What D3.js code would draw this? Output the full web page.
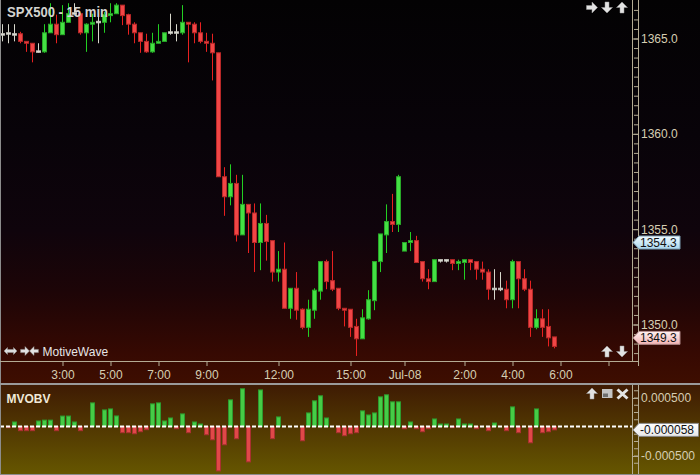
<!DOCTYPE html>
<html><head><meta charset="utf-8">
<script src="https://cdn.jsdelivr.net/npm/d3@7"></script>
<style>html,body{margin:0;padding:0;background:#000;overflow:hidden}svg{display:block}</style>
</head><body>
<svg id="c" width="700" height="475"></svg>
<script>
// ---------- DATA ----------
const openP = [1365.2,1365.25,1365.2,1365.25,1364.85,1364.75,1364.3,1364.3,1365.3,1365.75,
1365.2,1365.85,1366.3,1366.3,1365.3,1365.75,1365.85,1365.85,1366.2,1366.3,
1366.75,1366.25,1365.75,1365.3,1364.85,1364.3,1364.75,1364.85,1365.3,1365.3,
1365.3,1365.85,1365.75,1365.3,1364.85,1364.75,1364.25,1357.75,1356.7,1357.4,
1354.7,1356.3,1355.85,1354.3,1355.3,1354.4,1352.75,1352.9,1350.85,1351.9,
1350.8,1349.85,1350.75,1351.75,1353.3,1352.3,1351.9,1350.85,1350.8,1349.9,
1349.25,1350.3,1351.25,1353.3,1354.7,1355.4,1355.25,1353.85,1354.3,1354.4,
1353.3,1352.4,1352.25,1353.35,1353.35,1353.4,1353.2,1353.25,1353.4,1353.3,
1352.9,1352.75,1351.85,1351.85,1351.85,1351.3,1353.3,1352.4,1351.85,1349.85,
1350.3,1349.9,1349.35];
const highP = [1365.75,1365.75,1365.75,1365.35,1364.85,1364.75,1364.75,1365.75,1366.85,1366.25,
1366.75,1366.85,1366.85,1366.3,1365.8,1366.3,1366.3,1366.4,1366.85,1366.85,
1366.75,1366.3,1365.85,1365.3,1365.25,1365.3,1365.75,1365.3,1366.3,1365.75,
1366.75,1365.85,1365.85,1365.85,1365.3,1365.25,1364.25,1358.25,1358.4,1357.85,
1357.85,1356.3,1356.35,1356.35,1355.75,1354.4,1353.85,1354.3,1351.9,1352.75,
1350.85,1351.3,1351.9,1353.3,1353.4,1353.85,1351.9,1350.85,1350.8,1350.3,
1350.8,1351.8,1353.3,1354.75,1356.3,1356.85,1357.85,1354.3,1354.85,1354.65,
1353.3,1352.9,1353.4,1353.4,1353.4,1353.4,1353.4,1353.4,1353.4,1353.3,
1353.3,1352.9,1352.9,1352.75,1352.3,1353.4,1353.3,1352.9,1352.3,1350.8,
1350.8,1350.8,1349.35];
const lowP = [1364.85,1364.75,1364.85,1364.75,1364.3,1363.75,1364.25,1364.25,1365.3,1364.75,
1365.2,1365.85,1366.3,1365.2,1364.3,1364.85,1364.75,1365.3,1365.85,1366.3,
1365.7,1365.2,1364.75,1364.25,1364.25,1364.25,1364.75,1364.85,1365.2,1364.85,
1365.2,1363.75,1364.75,1364.75,1364.3,1362.8,1357.75,1355.7,1356.25,1354.35,
1354.7,1353.75,1352.75,1352.85,1353.35,1352.25,1352.25,1350.85,1350.3,1350.25,
1349.75,1349.35,1350.3,1351.3,1351.85,1351.75,1350.75,1349.9,1349.35,1348.35,
1349.25,1350.25,1350.75,1352.75,1353.75,1354.85,1354.85,1353.85,1353.85,1353.25,
1352.25,1351.85,1352.25,1353.25,1353.25,1352.85,1352.85,1352.35,1352.85,1352.35,
1352.35,1351.3,1351.3,1351.75,1350.85,1350.85,1350.85,1351.75,1349.35,1349.75,
1349.35,1348.85,1348.75];
const closeP = [1365.2,1365.25,1365.2,1364.85,1364.75,1364.3,1364.3,1365.3,1365.75,1365.2,
1365.85,1366.3,1366.3,1365.3,1365.75,1365.85,1365.85,1366.25,1366.3,1366.75,
1366.2,1365.75,1365.3,1364.85,1364.3,1364.75,1364.85,1365.3,1365.3,1365.3,
1365.85,1365.75,1365.3,1364.85,1364.75,1364.25,1357.75,1356.7,1357.4,1354.7,
1356.3,1355.85,1354.3,1355.3,1354.35,1352.75,1352.9,1350.85,1351.9,1350.75,
1349.85,1350.8,1351.8,1353.3,1352.25,1351.85,1350.85,1350.75,1349.85,1349.25,
1350.35,1351.3,1353.3,1354.75,1355.4,1355.25,1357.75,1354.3,1354.4,1353.25,
1352.4,1352.25,1353.4,1353.35,1353.35,1353.2,1353.3,1353.4,1353.25,1352.9,
1352.75,1351.85,1351.85,1351.85,1351.3,1353.3,1352.4,1351.85,1349.85,1350.3,
1349.85,1349.3,1348.85];
const mvobv = [0,-2e-5,7.8e-5,-7.2e-5,-7.2e-5,-7.2e-5,9.5e-5,1.1e-4,1.1e-4,-7.2e-5,
1.8e-4,1.8e-4,7.8e-5,-7.2e-5,0,4.07e-4,0,2.86e-4,3.03e-4,1.82e-4,
-1.07e-4,-1.07e-4,-1.25e-4,-9e-5,-5.5e-5,3.9e-4,4.07e-4,9.5e-5,1.47e-4,-3.8e-5,
2.17e-4,-1.07e-4,7.8e-5,4.3e-5,-1.42e-4,-2.29e-4,-7.66e-4,-3.15e-4,4.59e-4,-2.11e-4,
6.5e-4,-6.1e-4,0,6.3e-4,0,-2.1e-4,1.65e-4,0,0,0,
-2.46e-4,2.34e-4,4.42e-4,5.29e-4,1.47e-4,0,-1.07e-4,-1.59e-4,-1.25e-4,-1.07e-4,
2.69e-4,1.99e-4,2.34e-4,5.11e-4,5.46e-4,4.25e-4,4.25e-4,-3.8e-5,7.8e-5,-3.8e-5,
-9e-5,-3.8e-5,1.3e-4,4.3e-5,4.3e-5,-2e-5,1.3e-4,4.3e-5,4.3e-5,-3.8e-5,
0,-7.2e-5,6e-5,0,-7.2e-5,3.38e-4,-1.07e-4,0,-2.81e-4,3.03e-4,
-1.07e-4,-9e-5,-5.8e-5];
const timeTickBars = [10,18,26,34,46,58,67,77,85,93,101];
const timeTickLabels = ["3:00","5:00","7:00","9:00","12:00","15:00","Jul-08","2:00","4:00","6:00",""];
const priceMajorTicks = [1350,1355,1360,1365];
const priceMinorTicks = d3.range(1348.5,1366.51,0.5);
const obvTicks = [0.0005,-0.0005];
const obvMinorTicks = [0.000625,0.0005,0.000375,0.00025,0.000125,-0.000125,-0.00025,-0.000375,-0.0005,-0.000625];
const refPrice = 1354.3;
const lastPrice = 1349.3;
const lastObv = -0.000058;

// ---------- LAYOUT ----------
const W=700,H=475, PR=632, MAINB=361, IND0=385, IND1=474;
const svg=d3.select('#c');
const defs=svg.append('defs');
function grad(id,stops){const g=defs.append('linearGradient').attr('id',id).attr('x1',0).attr('y1',0).attr('x2',0).attr('y2',1);
 stops.forEach(([o,c])=>g.append('stop').attr('offset',o).attr('stop-color',c));}
grad('bgMain',[[0,'#030203'],[0.35,'#080309'],[0.6,'#0f040c'],[0.76,'#1d0507'],[0.92,'#360902'],[1,'#3e0e00']]);
grad('bgInd',[[0,'#3e1a03'],[1,'#665700']]);
grad('tagBlue',[[0,'#f2fbff'],[1,'#a9d6ee']]);
grad('tagPink',[[0,'#fff0f0'],[1,'#f2b4b4']]);
grad('tagWhite',[[0,'#ffffff'],[1,'#e8e8e8']]);
defs.append('clipPath').attr('id','clipMain').append('rect').attr('x',0).attr('y',0).attr('width',PR).attr('height',MAINB);
defs.append('clipPath').attr('id','clipInd').append('rect').attr('x',0).attr('y',IND0).attr('width',PR).attr('height',IND1-IND0);

svg.append('rect').attr('width',W).attr('height',384).attr('fill','url(#bgMain)');
svg.append('rect').attr('y',384).attr('width',W).attr('height',H-384).attr('fill','url(#bgInd)');

const x = d3.scaleLinear().domain([0,105]).range([0,630]);
const xc = d3.scaleLinear().domain([0,105]).range([2.5,632.5]);
const y = d3.scaleLinear().domain([1350,1365]).range([324.5,38.5]);
const yo = d3.scaleLinear().domain([-0.0005,0.0005]).range([455.5,397.5]);

const bars = openP.map((o,i)=>({i,o,h:highP[i],l:lowP[i],c:closeP[i]}));
const col = d=> d.c>d.o ? 'up' : (d.c<d.o ? 'dn' : 'eq');
const wickCol={up:'#22d022',dn:'#e82020',eq:'#d8d8cc'};
const bodyFill={up:'#44e044',dn:'#f04646',eq:'#f0f0ea'};
const bodyStroke={up:'#28a828',dn:'#b82828',eq:'#c0c0b8'};

const gm = svg.append('g').attr('clip-path','url(#clipMain)');
gm.selectAll('line.w').data(bars).join('line').attr('class','w')
 .attr('x1',d=>xc(d.i)).attr('x2',d=>xc(d.i)).attr('y1',d=>y(d.h)).attr('y2',d=>y(d.l))
 .attr('stroke',d=>wickCol[col(d)]).attr('stroke-width',1);
gm.selectAll('rect.b').data(bars).join('rect').attr('class','b')
 .attr('x',d=>x(d.i)+0.5).attr('width',4)
 .attr('y',d=>col(d)==='eq'? y(d.c)-1 : y(Math.max(d.o,d.c)))
 .attr('height',d=>col(d)==='eq'? 1.5 : Math.max(1,Math.abs(y(d.o)-y(d.c))))
 .attr('fill',d=>bodyFill[col(d)]).attr('stroke',d=>bodyStroke[col(d)]).attr('stroke-width',1);

// indicator bars
const gi = svg.append('g').attr('clip-path','url(#clipInd)');
gi.selectAll('rect').data(mvobv.map((v,i)=>({v,i})).filter(d=>d.v!==0)).join('rect')
 .attr('x',d=>x(d.i)+0.5).attr('width',4)
 .attr('y',d=>Math.min(yo(d.v),yo(0))).attr('height',d=>Math.abs(yo(d.v)-yo(0)))
 .attr('fill',d=>d.v>0?'#46cc46':'#e04848').attr('stroke',d=>d.v>0?'#2e9a2e':'#a83030').attr('stroke-width',1);
svg.append('line').attr('x1',0).attr('x2',PR).attr('y1',yo(0)).attr('y2',yo(0))
 .attr('stroke','#ffffff').attr('stroke-width',2).attr('stroke-dasharray','4,2');

// frames
const axCol='#b4ac94', txtCol='#d6ceb2';
svg.append('line').attr('x1',0.5).attr('x2',0.5).attr('y1',0).attr('y2',H).attr('stroke','#8c8c8c');
svg.append('line').attr('x1',PR+0.5).attr('x2',PR+0.5).attr('y1',0).attr('y2',MAINB).attr('stroke',axCol);
svg.append('line').attr('x1',PR+6.5).attr('x2',PR+6.5).attr('y1',0).attr('y2',366).attr('stroke',axCol);
svg.append('line').attr('x1',0).attr('x2',PR+6).attr('y1',MAINB+0.5).attr('y2',MAINB+0.5).attr('stroke',axCol);
svg.append('rect').attr('x',0).attr('y',383).attr('width',W).attr('height',2).attr('fill','#9a9a9a');
svg.append('line').attr('x1',PR+0.5).attr('x2',PR+0.5).attr('y1',IND0).attr('y2',IND1).attr('stroke',axCol);
svg.append('line').attr('x1',PR+6.5).attr('x2',PR+6.5).attr('y1',IND0).attr('y2',IND1).attr('stroke',axCol);
svg.append('rect').attr('x',0).attr('y',IND1).attr('width',W).attr('height',1).attr('fill','#8c8c8c');

function styleAxis(g){g.select('.domain').remove();g.selectAll('line').attr('stroke',axCol);
 g.selectAll('text').attr('fill',txtCol).attr('font-family','Liberation Sans, Arial, sans-serif').attr('font-size',12);}
// price axis
svg.append('g').attr('transform',`translate(${PR+2},0)`)
 .call(d3.axisRight(y).tickValues(priceMinorTicks).tickSize(4).tickFormat('')).call(styleAxis);
svg.append('g').attr('transform',`translate(${PR},0)`)
 .call(d3.axisRight(y).tickValues(priceMajorTicks).tickSize(6).tickPadding(3).tickFormat(d=>d.toFixed(1))).call(styleAxis);
// time axis
svg.append('g').attr('transform',`translate(0,${MAINB})`)
 .call(d3.axisBottom(xc).tickValues(timeTickBars).tickSize(5).tickPadding(4).tickFormat((d,i)=>timeTickLabels[i])).call(styleAxis);
// indicator axis
svg.append('g').attr('transform',`translate(${PR+2},0)`)
 .call(d3.axisRight(yo).tickValues(obvMinorTicks).tickSize(4).tickFormat('')).call(styleAxis);
svg.append('g').attr('transform',`translate(${PR},0.5)`)
 .call(d3.axisRight(yo).tickValues(obvTicks).tickSize(6).tickPadding(3).tickFormat(d=>(d<0?'-':'')+Math.abs(d).toFixed(6))).call(styleAxis);

// tags
function tag(yc,text,fill,stroke,x1){
 const x0=PR+1;
 svg.append('path').attr('d',`M${x0},${yc} L${x0+6},${yc-6.5} L${x1},${yc-6.5} L${x1},${yc+6.5} L${x0+6},${yc+6.5} Z`)
  .attr('fill',fill).attr('stroke',stroke).attr('stroke-width',1);
 svg.append('text').attr('x',PR+8).attr('y',yc).attr('dy','0.36em').text(text)
  .attr('font-family','Liberation Sans, Arial, sans-serif').attr('font-size',12).attr('fill','#111');
}
tag(y(refPrice),refPrice.toFixed(1),'url(#tagBlue)','#7a9cb0',680);
tag(y(lastPrice),lastPrice.toFixed(1),'url(#tagPink)','#b08888',680);
tag(yo(lastObv),(lastObv<0?'-':'')+Math.abs(lastObv).toFixed(6),'url(#tagWhite)','#888',698.5);

// texts
svg.append('text').attr('x',7).attr('y',16.5).text('SPX500 - 15 min')
 .attr('font-family','Liberation Sans, Arial, sans-serif').attr('font-size',14.5).attr('font-weight','bold').attr('fill','#d4d4d0')
 .attr('textLength',101).attr('lengthAdjust','spacingAndGlyphs');
svg.append('text').attr('x',42.5).attr('y',356).text('MotiveWave')
 .attr('font-family','Liberation Sans, Arial, sans-serif').attr('font-size',12).attr('fill','#e6e6e6');
svg.append('text').attr('x',6.5).attr('y',402.5).text('MVOBV')
 .attr('font-family','Liberation Sans, Arial, sans-serif').attr('font-size',12).attr('font-weight','bold').attr('fill','#f0ead8');

// icons
const upPts=[[0,-5.5],[5.5,0],[2,0],[2,5.5],[-2,5.5],[-2,0],[-5.5,0]];
function arrow(cx,cy,rot,s=1){
 svg.append('polygon').attr('points',upPts.map(p=>[p[0]*s,p[1]*s].join(',')).join(' '))
  .attr('transform',`translate(${cx},${cy}) rotate(${rot})`).attr('fill','#e2e2e2').attr('stroke','#9a9a9a').attr('stroke-width',0.5);
}
arrow(592,7.5,90); arrow(607,7.5,180); arrow(622,7.5,0);
arrow(607,351.5,0); arrow(622,351.5,180);
arrow(592,393.5,0);
arrow(25,351,90,0.8); arrow(34,351,270,0.8);
svg.append('polygon').attr('points','-6.5,0 -3,-3.5 -3,-1.5 3,-1.5 3,-3.5 6.5,0 3,3.5 3,1.5 -3,1.5 -3,3.5')
 .attr('transform','translate(10.5,351)').attr('fill','#dcdcdc').attr('stroke','#999').attr('stroke-width',0.5);
svg.append('rect').attr('x',602).attr('y',389).attr('width',10.5).attr('height',9).attr('fill','#c4c4c4');
svg.append('rect').attr('x',603).attr('y',393.5).attr('width',5).attr('height',3.5).attr('fill','#6e6e6e');
svg.append('path').attr('d','M617.5,389.5 L627.5,398.5 M627.5,389.5 L617.5,398.5').attr('stroke','#e4e4e4').attr('stroke-width',3);
</script>
</body></html>
